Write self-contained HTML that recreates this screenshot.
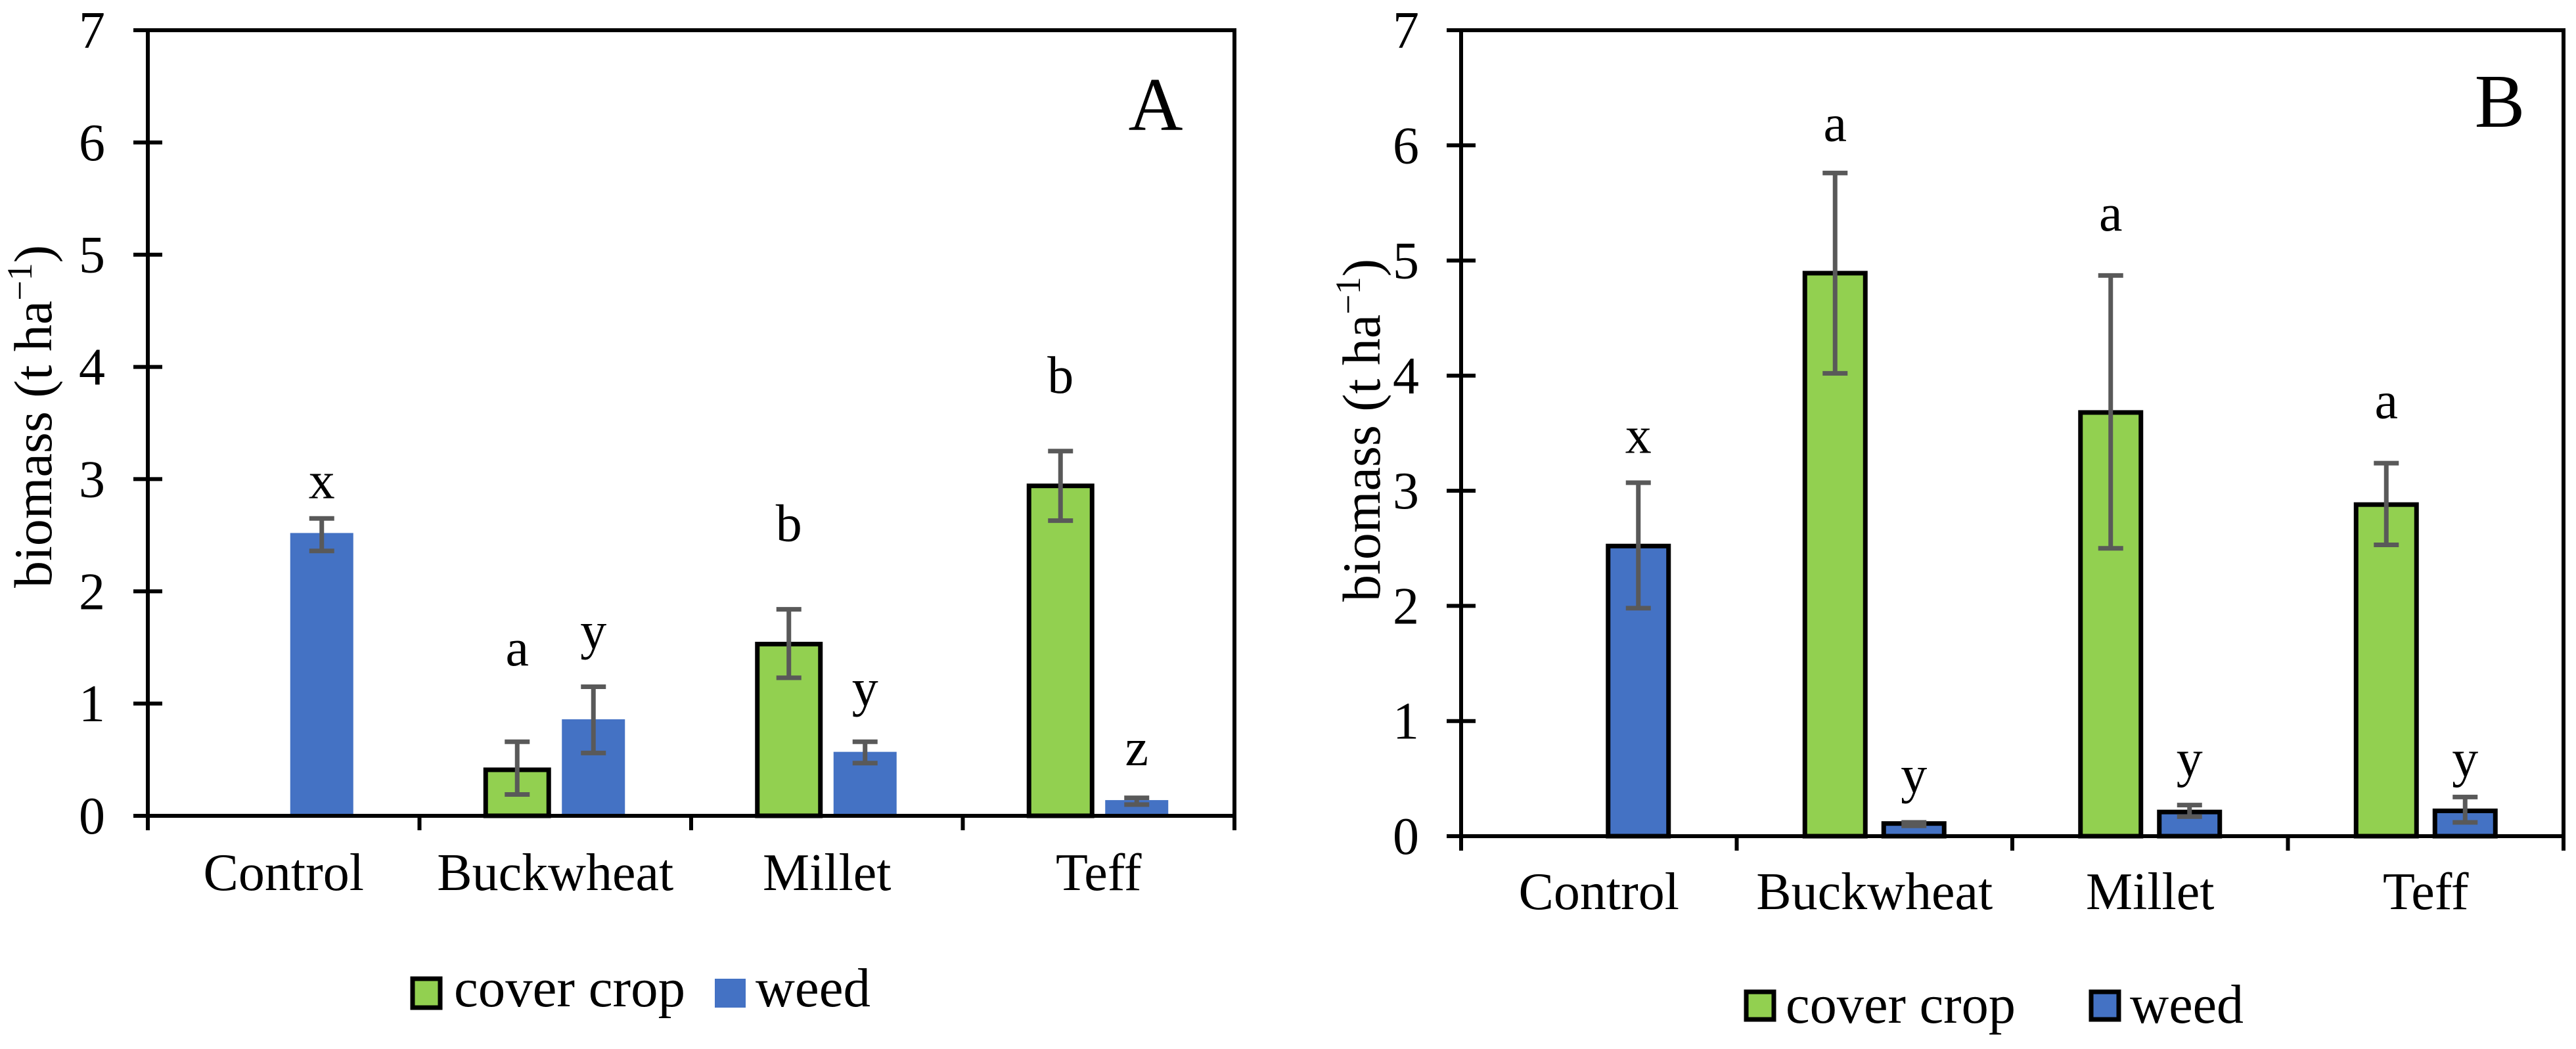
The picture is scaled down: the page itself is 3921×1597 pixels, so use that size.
<!DOCTYPE html>
<html><head><meta charset="utf-8"><style>
html,body{margin:0;padding:0;background:#fff;}
svg{display:block;font-family:"Liberation Serif","DejaVu Serif",serif;}
svg text{font-family:"Liberation Serif","DejaVu Serif",serif;fill:#000;}
</style></head>
<body>
<svg id="chart" width="3921" height="1597" viewBox="0 0 3921 1597" xmlns="http://www.w3.org/2000/svg" font-family="Liberation Serif, serif"></svg>
<script>
const categories = ["Control","Buckwheat","Millet","Teff"];
const yTicks = [0,1,2,3,4,5,6,7];
// Panel A
const aCover = [null,0.41,1.53,2.94];
const aCoverLo = [null,0.19,1.23,2.63];
const aCoverHi = [null,0.66,1.84,3.25];
const aWeed = [2.52,0.86,0.57,0.14];
const aWeedLo = [2.36,0.56,0.47,0.10];
const aWeedHi = [2.65,1.15,0.66,0.16];
const aCoverLetters = ["", "a","b","b"];
const aCoverLetterPos = [null,1.34,2.45,3.77];
const aWeedLetters = ["x","y","y","z"];
const aWeedLetterPos = [2.83,1.49,0.98,0.45];
// Panel B
const bCover = [null,4.89,3.68,2.88];
const bCoverLo = [null,4.02,2.50,2.53];
const bCoverHi = [null,5.76,4.87,3.24];
const bWeed = [2.52,0.11,0.21,0.22];
const bWeedLo = [1.98,0.09,0.17,0.12];
const bWeedHi = [3.07,0.12,0.27,0.34];
const bCoverLetters = ["","a","a","a"];
const bCoverLetterPos = [null,6.04,5.26,3.63];
const bWeedLetters = ["x","y","y","y"];
const bWeedLetterPos = [3.33,0.38,0.52,0.52];

const NS="http://www.w3.org/2000/svg";
const FONT='"Liberation Serif", "DejaVu Serif", serif';
const svg=document.getElementById('chart');
function mk(tag,attrs,parent){const e=document.createElementNS(NS,tag);for(const k in attrs)e.setAttribute(k,attrs[k]);if(tag==='text'){e.setAttribute('font-family',FONT);e.style.fontFamily=FONT;}(parent||svg).appendChild(e);return e;}

function panel(cfg){
  const g=mk('g',{});
  
  
  const y=v=>cfg.y0-v*(cfg.y0-cfg.y7)/7;
  const cw=(cfg.x1-cfg.x0)/categories.length;
  const xc=i=>cfg.x0+cw*(i+0.5);
  const fr=mk('rect',{x:cfg.x0,y:cfg.y7,width:cfg.x1-cfg.x0,height:cfg.y0-cfg.y7,fill:'none',stroke:'#000','stroke-width':6},g);
  
  
  yTicks.forEach(t=>{
    const ln=mk('line',{x1:cfg.x0-22,x2:cfg.x0+(t===0||t===7?0:22),y1:y(t),y2:y(t),stroke:'#000','stroke-width':6},g);
    
    
    const tx=mk('text',{x:cfg.tickRight,y:y(t)+27,'text-anchor':'end','font-size':80},g);
    tx.textContent=t;
    
    
  });
  for(let i=0;i<=categories.length;i++){
    const ln=mk('line',{x1:cfg.x0+cw*i,x2:cfg.x0+cw*i,y1:cfg.y0,y2:cfg.y0+22,stroke:'#000','stroke-width':6},g);
    
    
  }
  categories.forEach((c,i)=>{
    const tx=mk('text',{x:xc(i),y:cfg.xLabelY,'text-anchor':'middle','font-size':80},g);
    tx.textContent=c;
    
    
  });
  const bw=cfg.bw, off=cfg.off;
  function bar(v,lo,hi,i,dx,fill,stroke,nm,letter,lpos){
    const cx=xc(i)+dx;
    if(v!==null){
      const r=mk('rect',{x:cx-bw/2,y:y(v),width:bw,height:y(0)-y(v),fill:fill},g);
      if(stroke){r.setAttribute('stroke','#000');r.setAttribute('stroke-width',7);}
      
      
      const eb=mk('path',{d:`M${cx} ${y(hi)}V${y(lo)}M${cx-19} ${y(hi)}H${cx+19}M${cx-19} ${y(lo)}H${cx+19}`,stroke:'#595959','stroke-width':7,fill:'none'},g);
      
      
    }
    if(letter){
      const t=mk('text',{x:cx,y:y(lpos),'text-anchor':'middle','font-size':80},g);
      t.textContent=letter;
      
      
    }
  }
  categories.forEach((c,i)=>{
    bar(cfg.cover[i],cfg.coverLo[i],cfg.coverHi[i],i,-off,'#92D050',true,'bar-cover-crop',cfg.coverL[i],cfg.coverLP[i]);
    bar(cfg.weed[i],cfg.weedLo[i],cfg.weedHi[i],i,off,'#4472C4',cfg.weedStroke,'bar-weed',cfg.weedL[i],cfg.weedLP[i]);
  });
  const bl=mk('line',{x1:cfg.x0,x2:cfg.x1,y1:cfg.y0,y2:cfg.y0,stroke:'#000','stroke-width':6},g);
  
  
  const yt=mk('text',{x:0,y:0,'text-anchor':'middle','font-size':82,transform:`translate(${cfg.titleX},${cfg.titleY}) rotate(-90)`},g);
  
  
  yt.innerHTML='biomass (t ha<tspan dy="-30" font-size="54">−1</tspan><tspan dy="30">)</tspan>';
  const pl=mk('text',{x:cfg.letterX,y:cfg.letterY,'text-anchor':'middle','font-size':115},g);
  pl.textContent=cfg.letter;
  
  
  const lg=mk('g',{},g);
  
  
  const L=cfg.leg;
  const b1=mk('rect',{x:L.g[0],y:L.by,width:L.g[1]-L.g[0],height:L.bh,fill:'#92D050',stroke:'#000','stroke-width':7},lg);
  
  
  const t1=mk('text',{x:L.t1[0],y:L.base,'font-size':84,textLength:L.t1[1]-L.t1[0],lengthAdjust:'spacingAndGlyphs'},lg);
  t1.textContent='cover crop';
  
  
  const b2=mk('rect',{x:L.b[0],y:L.by,width:L.b[1]-L.b[0],height:L.bh,fill:'#4472C4'},lg);
  if(cfg.weedStroke){b2.setAttribute('stroke','#000');b2.setAttribute('stroke-width',7);}
  
  
  const t2=mk('text',{x:L.t2[0],y:L.base,'font-size':84,textLength:L.t2[1]-L.t2[0],lengthAdjust:'spacingAndGlyphs'},lg);
  t2.textContent='weed';
  
  
}

panel({name:'panel-a',x0:225,x1:1879,y0:1242,y7:46,tickRight:160,xLabelY:1355,bw:96,off:58,
  cover:aCover,coverLo:aCoverLo,coverHi:aCoverHi,weed:aWeed,weedLo:aWeedLo,weedHi:aWeedHi,
  coverL:aCoverLetters,coverLP:aCoverLetterPos,weedL:aWeedLetters,weedLP:aWeedLetterPos,weedStroke:false,
  titleX:78,titleY:634,letter:'A',letterX:1759,letterY:198,
  leg:{g:[628,670],b:[1088,1135],by:1490,bh:44,base:1532,t1:[691,1043],t2:[1150,1325]}});
panel({name:'panel-b',x0:2224,x1:3902,y0:1273,y7:46,tickRight:2160,xLabelY:1384,bw:92,off:60,
  cover:bCover,coverLo:bCoverLo,coverHi:bCoverHi,weed:bWeed,weedLo:bWeedLo,weedHi:bWeedHi,
  coverL:bCoverLetters,coverLP:bCoverLetterPos,weedL:bWeedLetters,weedLP:bWeedLetterPos,weedStroke:true,
  titleX:2100,titleY:655,letter:'B',letterX:3805,letterY:193,
  leg:{g:[2658,2700],b:[3183,3225],by:1510,bh:42,base:1557,t1:[2718,3068],t2:[3242,3415]}});
</script>
</body></html>
